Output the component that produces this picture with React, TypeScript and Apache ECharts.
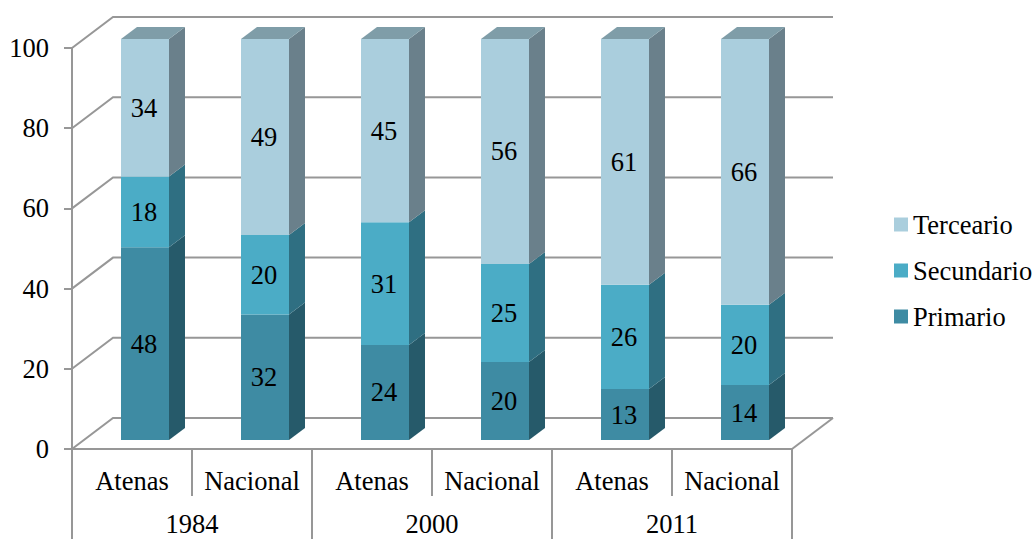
import React, { useEffect, useRef } from "react";
import * as echarts from "echarts";

const groups = ["Atenas", "Nacional", "Atenas", "Nacional", "Atenas", "Nacional"];
const years = ["1984", "2000", "2011"];
// printed labels
const primario = [48, 32, 24, 20, 13, 14];
const secundario = [18, 20, 31, 25, 26, 20];
const terceario = [34, 49, 45, 56, 61, 66];
// drawn heights (100% stacked)
const primarioHeight = [48.05, 31.3, 23.7, 19.45, 12.7, 13.7];
const secundarioHeight = [17.65, 19.8, 30.6, 24.45, 26, 20];
const tercearioHeight = [34.3, 48.9, 45.7, 56.1, 61.3, 66.3];
const gridTicks = [0, 20, 40, 60, 80, 100];

const FONT = "'Liberation Serif', 'Times New Roman', serif";
const FS = 26.5;
const LINE = "#979797";
const WALL_DX = 41;
const WALL_DY = 31;
const BAR_DX = 16;
const BAR_DY = 12;
const BAR_W = 48;
const BAR_LEFT = -11;
const BAR_LIFT = 9;

function stackRows(heights: number[], labels: number[], below: number[][]) {
  return heights.map((h, i) => {
    const base = below.reduce((s, b) => s + b[i], 0);
    return [i, base, base + h, labels[i]];
  });
}

function barRenderer(front: string, side: string, top: string, withTop: boolean) {
  return (_params: any, api: any) => {
    const idx = api.value(0);
    const a = api.coord([idx, api.value(1)]);
    const b = api.coord([idx, api.value(2)]);
    const x0 = a[0] + BAR_LEFT;
    const x1 = x0 + BAR_W;
    const y0 = a[1] - BAR_LIFT;
    const y1 = b[1] - BAR_LIFT;
    const children: any[] = [
      {
        type: "polygon",
        shape: { points: [[x1, y0], [x1 + BAR_DX, y0 - BAR_DY], [x1 + BAR_DX, y1 - BAR_DY], [x1, y1]] },
        style: { fill: side },
      },
      { type: "rect", shape: { x: x0, y: y1, width: BAR_W, height: y0 - y1 }, style: { fill: front } },
    ];
    if (withTop) {
      children.push({
        type: "polygon",
        shape: { points: [[x0, y1], [x0 + BAR_DX, y1 - BAR_DY], [x1 + BAR_DX, y1 - BAR_DY], [x1, y1]] },
        style: { fill: top },
      });
    }
    children.push({
      type: "text",
      x: x0 + BAR_W / 2 - 1,
      y: (y0 + y1) / 2,
      style: {
        text: String(api.value(3)),
        fontFamily: FONT,
        fontSize: FS,
        fill: "#000",
        align: "center",
        verticalAlign: "middle",
      },
    });
    return { type: "group", children };
  };
}

function frameRenderer(params: any, api: any) {
  const v = api.value(1);
  const y = api.coord([0, v])[1];
  const x0 = params.coordSys.x;
  const w = params.coordSys.width;
  const children: any[] = [
    {
      type: "polyline",
      shape: { points: [[x0, y], [x0 + WALL_DX, y - WALL_DY], [x0 + w + WALL_DX, y - WALL_DY]] },
      style: { stroke: LINE, lineWidth: 2, fill: "none" },
    },
  ];
  if (v === 0) {
    children.push({
      type: "line",
      shape: { x1: x0 + w, y1: y, x2: x0 + w + WALL_DX, y2: y - WALL_DY },
      style: { stroke: LINE, lineWidth: 2 },
    });
  }
  return { type: "group", children };
}

const axisLine = { show: true, lineStyle: { color: LINE, width: 2 } };

export default function App() {
  const ref = useRef<HTMLDivElement>(null);
  useEffect(() => {
    const chart = echarts.init(ref.current!, null, { renderer: "svg" });
    chart.setOption({
      animation: false,
      backgroundColor: "#fff",
      grid: { left: 72, right: 243, top: 48, bottom: 90, containLabel: false, outerBoundsMode: "none" },
      legend: {
        orient: "vertical",
        left: 894,
        top: 211,
        padding: 0,
        icon: "rect",
        itemWidth: 14,
        itemHeight: 14,
        itemGap: 19,
        data: ["Terceario", "Secundario", "Primario"],
        textStyle: { fontFamily: FONT, fontSize: FS, color: "#000", padding: [0, 0, 0, 0] },
      },
      xAxis: [
        {
          type: "category",
          data: groups,
          position: "bottom",
          axisLine,
          axisTick: { show: true, alignWithLabel: false, length: 47, lineStyle: { color: LINE, width: 2 } },
          axisLabel: { fontFamily: FONT, fontSize: FS, color: "#000", margin: 18, interval: 0 },
        },
        {
          type: "category",
          data: years,
          position: "bottom",
          axisLine: { show: false },
          axisTick: { show: true, length: 90, lineStyle: { color: LINE, width: 2 } },
          axisLabel: { fontFamily: FONT, fontSize: FS, lineHeight: 22, color: "#000", margin: 64, interval: 0 },
        },
      ],
      yAxis: {
        type: "value",
        min: 0,
        max: 100,
        interval: 20,
        axisLine,
        axisTick: { show: true, length: 8, lineStyle: { color: LINE, width: 2 } },
        splitLine: { show: false },
        axisLabel: { fontFamily: FONT, fontSize: FS, color: "#000", margin: 23, padding: [3, 0, 0, 0] },
      },
      series: [
        {
          type: "custom",
          name: "frame",
          silent: true,
          z: 1,
          clip: false,
          renderItem: frameRenderer,
          data: gridTicks.map((t) => [0, t]),
        },
        {
          type: "custom",
          name: "Primario",
          z: 3,
          clip: false,
          itemStyle: { color: "#3E8BA3" },
          renderItem: barRenderer("#3E8BA3", "#265A6A", "#265A6A", false),
          data: stackRows(primarioHeight, primario, []),
        },
        {
          type: "custom",
          name: "Secundario",
          z: 3,
          clip: false,
          itemStyle: { color: "#4BACC6" },
          renderItem: barRenderer("#4BACC6", "#2F6F82", "#2F6F82", false),
          data: stackRows(secundarioHeight, secundario, [primarioHeight]),
        },
        {
          type: "custom",
          name: "Terceario",
          z: 3,
          clip: false,
          itemStyle: { color: "#AACEDD" },
          renderItem: barRenderer("#AACEDD", "#6A808B", "#7F9DA8", true),
          data: stackRows(tercearioHeight, terceario, [primarioHeight, secundarioHeight]),
        },
      ],
    });
    return () => chart.dispose();
  }, []);
  return <div ref={ref} style={{ position: "absolute", left: 0, top: 0, width: 1035, height: 539 }} />;
}
